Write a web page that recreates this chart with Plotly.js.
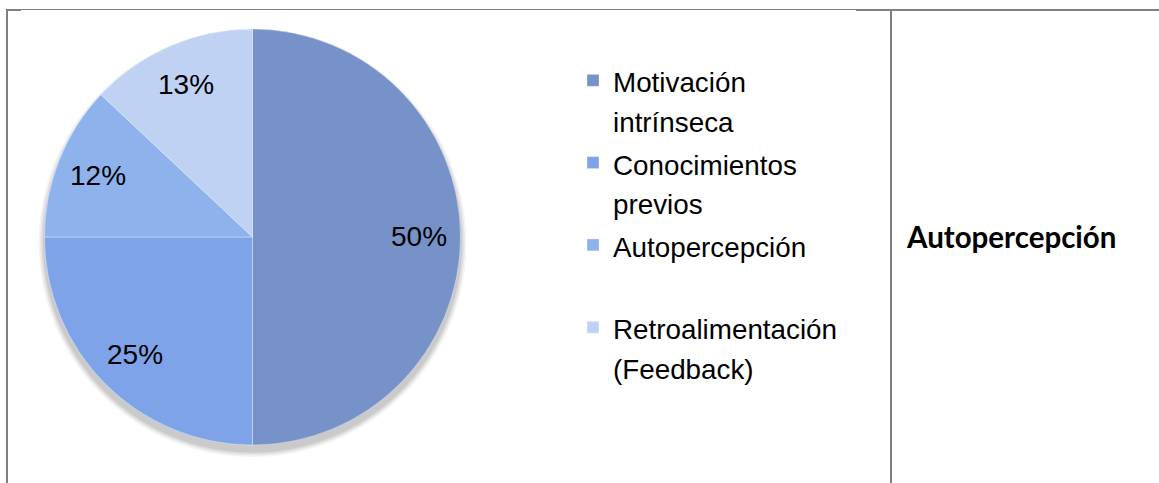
<!DOCTYPE html>
<html>
<head>
<meta charset="utf-8">
<script src="https://cdn.plot.ly/plotly-3.0.1.min.js"></script>
<style>html,body{margin:0;padding:0;background:#fff;}#chart{width:1159px;height:483px;}</style>
</head>
<body>
<div id="chart"></div>
<script>
// ---- data ----
var categories = ['Motivación intrínseca', 'Conocimientos previos', 'Autopercepción', 'Retroalimentación (Feedback)'];
var legendLines = [['Motivación', 'intrínseca'], ['Conocimientos', 'previos'], ['Autopercepción', '\u00a0'], ['Retroalimentación', '(Feedback)']];
var values = [50, 25, 12, 13];
var sliceColors = ['#7692C9', '#7EA3E8', '#8EB2EB', '#BFD2F3'];
var sideLabel = 'Autopercepción';

// ---- geometry / style ----
var W = 1159, H = 483;
var cx = 252.5, cy = 237, r = 208;
var labelRadius = 0.8;

var legendLabels = legendLines.map(function (l) {
  return l.map(function (t) { return '<span style="font-size:27.8px">' + t + '</span>'; }).join('<br>');
});

var trace = {
  type: 'pie',
  labels: legendLabels,
  values: values,
  sort: false,
  direction: 'clockwise',
  rotation: 0,
  marker: { colors: sliceColors, line: { color: 'rgba(255,255,255,0.35)', width: 1 } },
  textinfo: 'none',
  hoverinfo: 'label+percent',
  domain: { x: [(cx - r) / W, (cx + r) / W], y: [(H - cy - r) / H, (H - cy + r) / H] }
};

// percentage labels placed along each slice's mid-angle (derived from values)
var total = values.reduce(function (a, b) { return a + b; }, 0);
var annotations = [];
var cum = 0;
values.forEach(function (v) {
  var mid = (cum + v / 2) / total * 2 * Math.PI;
  cum += v;
  var px = cx + labelRadius * r * Math.sin(mid);
  var py = cy - labelRadius * r * Math.cos(mid);
  annotations.push({
    xref: 'paper', yref: 'paper', x: px / W, y: 1 - py / H, xanchor: 'center', yanchor: 'middle',
    text: Math.round(v / total * 100) + '%', showarrow: false,
    font: { family: 'Liberation Sans, Arial, sans-serif', size: 28, color: '#000' }
  });
});
annotations.push({
  xref: 'paper', yref: 'paper', x: 1011 / W, y: 1 - 237 / H, xanchor: 'center', yanchor: 'middle',
  text: '<b>' + sideLabel + '</b>', showarrow: false,
  font: { family: 'Lato, sans-serif', size: 29.5, color: '#000' }
});

var shapes = [];
// soft shadow under the pie
[[6, 0.04], [4.5, 0.05], [3, 0.06], [1.5, 0.07]].forEach(function (s) {
  var rr = r + s[0], oy = 6;
  shapes.push({ type: 'circle', xref: 'paper', yref: 'paper', layer: 'below',
    x0: (cx - rr) / W, x1: (cx + rr) / W,
    y0: (H - cy - oy - rr) / H, y1: (H - cy - oy + rr) / H,
    fillcolor: 'rgba(0,0,0,' + s[1] + ')', line: { width: 0 } });
});
// table frame
function hline(x0, x1, y, w) {
  shapes.push({ type: 'line', xref: 'paper', yref: 'paper', x0: x0 / W, x1: x1 / W, y0: 1 - y / H, y1: 1 - y / H,
    line: { color: '#808080', width: w } });
}
function vline(x, y0, y1, w) {
  shapes.push({ type: 'line', xref: 'paper', yref: 'paper', x0: x / W, x1: x / W, y0: 1 - y0 / H, y1: 1 - y1 / H,
    line: { color: '#808080', width: w } });
}
hline(6, 21, 10, 2);
hline(21, 856, 9.5, 1);
hline(856, 1159, 10, 2);
vline(7, 9, 483, 2);
vline(891, 9, 483, 2);

var layout = {
  width: W, height: H, autosize: false,
  margin: { l: 0, r: 0, t: 0, b: 0, pad: 0 },
  paper_bgcolor: '#fff', plot_bgcolor: '#fff',
  showlegend: true,
  legend: {
    x: 573 / W, xanchor: 'left', y: 1 - 54 / H, yanchor: 'top',
    valign: 'top',
    font: { family: 'Liberation Sans, Arial, sans-serif', size: 30.5, color: '#000' },
    bgcolor: 'rgba(0,0,0,0)', borderwidth: 0
  },
  shapes: shapes,
  annotations: annotations
};

Plotly.newPlot('chart', [trace], layout, { staticPlot: true, displayModeBar: false });
</script>
</body>
</html>
